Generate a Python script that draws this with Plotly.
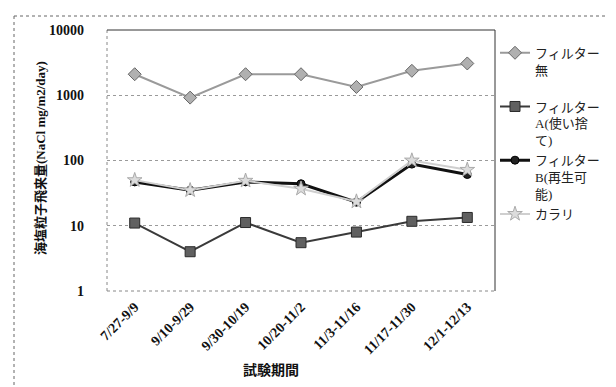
import plotly.graph_objects as go

periods = ["7/27-9/9", "9/10-9/29", "9/30-10/19", "10/20-11/2", "11/3-11/16", "11/17-11/30", "12/1-12/13"]
filter_none = [2100, 920, 2100, 2100, 1340, 2370, 3070]
filter_a = [11.0, 4.0, 11.2, 5.5, 8.0, 11.7, 13.4]
filter_b = [47, 35, 47, 44, 23, 88, 61]
karari = [50, 35, 49, 37, 23.5, 100, 72]

names = ["フィルター<br>無<br> ", "フィルター<br>A(使い捨<br>て)", "フィルター<br>B(再生可<br>能)", "カラリ"]
y_ticks = [1, 10, 100, 1000, 10000]
y_ticktext = ["1", "10", "100", "1000", "10000"]

fig = go.Figure()
fig.add_trace(go.Scatter(x=periods, y=filter_none, name=names[0], mode="lines+markers",
                         line=dict(color="#9a9a9a", width=2),
                         marker=dict(symbol="diamond", size=10, color="#b0b0b0",
                                     line=dict(color="#666666", width=1))))
fig.add_trace(go.Scatter(x=periods, y=filter_a, name=names[1], mode="lines+markers",
                         line=dict(color="#3a3a3a", width=2),
                         marker=dict(symbol="square", size=10, color="#606060",
                                     line=dict(color="#2a2a2a", width=1))))
fig.add_trace(go.Scatter(x=periods, y=filter_b, name=names[2], mode="lines+markers",
                         line=dict(color="#111111", width=3),
                         marker=dict(symbol="circle", size=8, color="#222222",
                                     line=dict(color="#000000", width=1))))
fig.add_trace(go.Scatter(x=periods, y=karari, name=names[3], mode="lines+markers",
                         line=dict(color="#cfcfcf", width=2),
                         marker=dict(symbol="star", size=11, color="#dcdcdc",
                                     line=dict(color="#aaaaaa", width=1))))

serif_cjk = "Liberation Serif, Noto Sans CJK JP"
tickfont = dict(family="Liberation Serif", size=14, color="#111111", weight="bold")

fig.update_layout(
    width=616, height=387,
    margin=dict(l=99, r=129, t=22, b=104),
    paper_bgcolor="white", plot_bgcolor="white",
    showlegend=True,
    legend=dict(x=1.0, xanchor="left", y=0.97, yanchor="top", valign="top",
                font=dict(family=serif_cjk, size=13, color="#222222"),
                bgcolor="rgba(0,0,0,0)", tracegroupgap=0, itemwidth=30),
    xaxis=dict(type="category", range=[-0.5, 6.5], showgrid=False, showline=False,
               ticks="", tickangle=-45, tickfont=tickfont, ticklabelstandoff=4),
    yaxis=dict(type="log", range=[0, 4], tickvals=y_ticks, ticktext=y_ticktext,
               showgrid=True, gridcolor="#9a9a9a", griddash="dot", gridwidth=1,
               showline=False, ticks="", tickfont=tickfont, ticklabelstandoff=22),
    shapes=[
        dict(type="line", xref="paper", yref="paper", x0=0, x1=0, y0=0, y1=1,
             line=dict(color="#888888", width=1, dash="dot")),
        dict(type="line", xref="paper", yref="paper", x0=0, x1=1, y0=0, y1=0,
             line=dict(color="#888888", width=1, dash="dot")),
        dict(type="line", xref="paper", yref="paper", x0=0, x1=1, y0=1, y1=1,
             line=dict(color="#333333", width=1)),
        dict(type="line", xref="paper", yref="paper", x0=1, x1=1, y0=0, y1=1,
             line=dict(color="#333333", width=1)),
        # chart area border (top and left edges visible)
        dict(type="line", xref="paper", yref="paper",
             x0=(6 - 99) / 388, x1=(616 - 99) / 388, y0=(283 - 8) / 261, y1=(283 - 8) / 261,
             line=dict(color="#666666", width=1, dash="dot")),
        dict(type="line", xref="paper", yref="paper",
             x0=(6 - 99) / 388, x1=(6 - 99) / 388, y0=(283 - 8) / 261, y1=(283 - 387) / 261,
             line=dict(color="#666666", width=1, dash="dot")),
    ],
    annotations=[
        dict(text="<b>海塩粒子飛来量(NaCl mg/m2/day)</b>", xref="paper", yref="paper",
             x=(32 - 99) / 388, y=(283 - 150) / 261, xanchor="center", yanchor="middle",
             textangle=-90, showarrow=False,
             font=dict(family=serif_cjk, size=13, color="#111111")),
        dict(text="<b>試験期間</b>", xref="paper", yref="paper",
             x=(263 - 99) / 388, y=(283 - 362) / 261, xanchor="center", yanchor="middle",
             showarrow=False,
             font=dict(family=serif_cjk, size=14, color="#111111")),
    ],
)

fig.write_html("out.html")
